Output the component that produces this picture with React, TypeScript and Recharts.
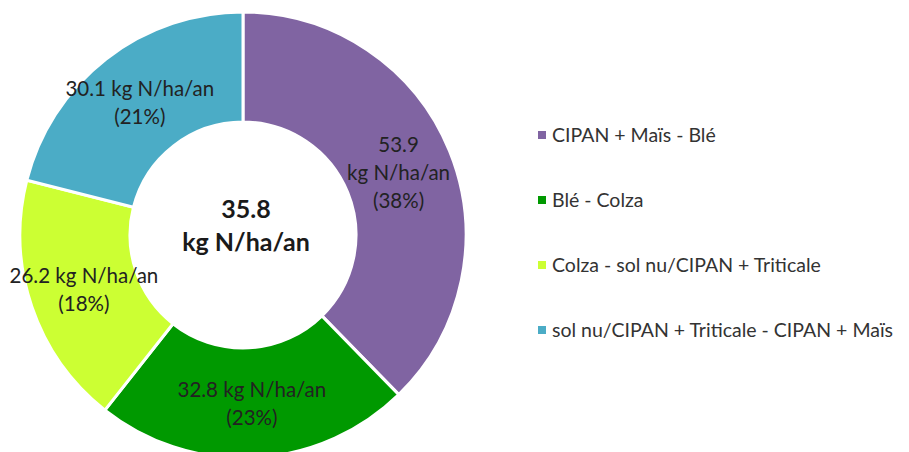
import React from 'react';
import { PieChart, Pie, Cell, Legend } from 'recharts';

const categories = [
  'CIPAN + Maïs - Blé',
  'Blé - Colza',
  'Colza - sol nu/CIPAN + Triticale',
  'sol nu/CIPAN + Triticale - CIPAN + Maïs',
];
const values = [53.9, 32.8, 26.2, 30.1];
const colors = ['#8064A2', '#009900', '#CCFF33', '#4BACC6'];
const wrapValue = [true, false, false, false];
const centerValue = '35.8';
const unit = 'kg N/ha/an';

const data = categories.map((name, i) => ({ name, value: values[i] }));

const FONT = 'Lato, "Noto Sans", sans-serif';
const RAD = Math.PI / 180;

const renderLabel = (props: any) => {
  const { cx, cy, midAngle, innerRadius, outerRadius, percent, index, value } = props;
  const r = (innerRadius + outerRadius) / 2;
  const x = cx + r * Math.cos(-midAngle * RAD);
  const y = cy + r * Math.sin(-midAngle * RAD);
  const pct = `(${Math.round(percent * 100)}%)`;
  const lines = wrapValue[index]
    ? [`${value.toFixed(1)}`, unit, pct]
    : [`${value.toFixed(1)} ${unit}`, pct];
  const lh = 28;
  const start = y - ((lines.length - 1) * lh) / 2;
  return (
    <g key={`lbl-${index}`}>
      <text
        x={x}
        y={start}
        textAnchor="middle"
        dominantBaseline="central"
        fontFamily={FONT}
        fontSize={20.5}
        fill="#222"
      >
        {lines.map((l, i) => (
          <tspan key={i} x={x} y={start + i * lh}>
            {l}
          </tspan>
        ))}
      </text>
      {index === 0 ? (
        <text
          x={cx}
          y={cy}
          textAnchor="middle"
          dominantBaseline="central"
          fontFamily={FONT}
          fontWeight="bold"
          fontSize={25}
          fill="#1a1a1a"
        >
          <tspan x={cx + 3} y={cy - 27}>{centerValue}</tspan>
          <tspan x={cx + 3} y={cy + 6}>{unit}</tspan>
        </text>
      ) : null}
    </g>
  );
};

const renderLegend = () => (
  <div style={{ fontFamily: FONT, fontSize: 19.5, color: '#333' }}>
    {categories.map((name, i) => (
      <div key={name} style={{ height: 65, display: 'flex', alignItems: 'center', whiteSpace: 'nowrap' }}>
        <span
          style={{
            display: 'inline-block',
            width: 8,
            height: 8,
            background: colors[i],
            marginRight: 6,
          }}
        />
        <span>{name}</span>
      </div>
    ))}
  </div>
);

export default function App() {
  return (
    <PieChart width={901} height={444} margin={{ top: 0, right: 0, bottom: 0, left: 0 }}>
      <Pie
        data={data}
        dataKey="value"
        nameKey="name"
        cx={235}
        cy={227}
        innerRadius={113}
        outerRadius={223}
        startAngle={90}
        endAngle={-270}
        stroke="#ffffff"
        strokeWidth={3}
        labelLine={false}
        label={renderLabel}
        isAnimationActive={false}
      >
        {data.map((d, i) => (
          <Cell key={d.name} fill={colors[i]} />
        ))}
      </Pie>
      <Legend
        layout="vertical"
        content={renderLegend}
        wrapperStyle={{ left: 530, top: 94, width: 380 }}
      />
    </PieChart>
  );
}
